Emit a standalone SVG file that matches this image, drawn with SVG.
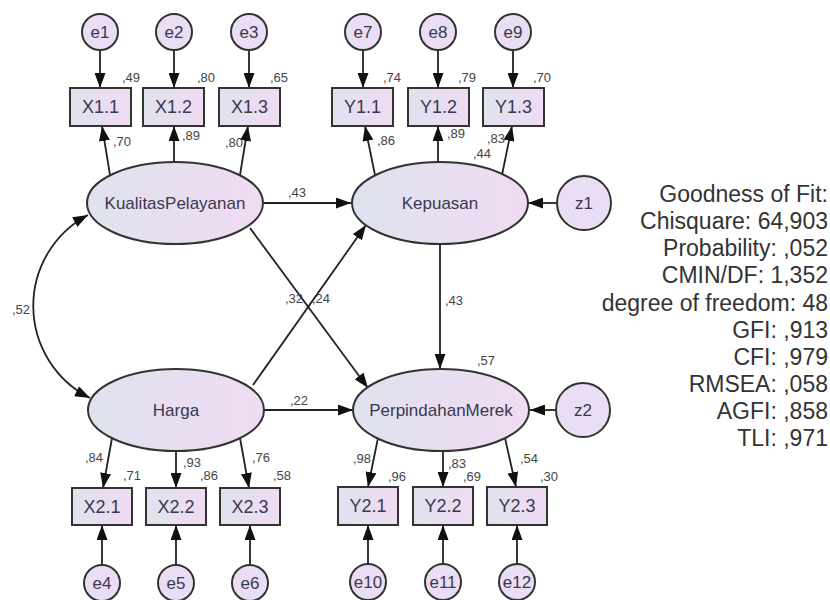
<svg xmlns="http://www.w3.org/2000/svg" width="830" height="600" viewBox="0 0 830 600">
<defs>
<linearGradient id="gfill" x1="0" y1="0" x2="1" y2="0">
<stop offset="0" stop-color="#dfe3ee"/>
<stop offset="1" stop-color="#f0dbf3"/>
</linearGradient>
<marker id="ah" viewBox="0 0 15 11" refX="15" refY="5.5" markerWidth="15" markerHeight="11" markerUnits="userSpaceOnUse" orient="auto-start-reverse">
<path d="M0,0 L15,5.5 L0,11 z" fill="#111"/>
</marker>
<style>
.box{fill:url(#gfill);stroke:#333;stroke-width:2}
.lat{fill:url(#gfill);stroke:#333;stroke-width:2}
.err{fill:#e9def3;stroke:#333;stroke-width:2}
.lbl{font-family:"Liberation Sans",Arial,sans-serif;fill:#3b3850;text-anchor:middle}
.bl{font-size:18px}
.ll{font-size:17px}
.el{font-size:17px}
.cf{font-family:"Liberation Sans",Arial,sans-serif;font-size:13px;fill:#444}
.fit{font-family:"Liberation Sans",Arial,sans-serif;font-size:23px;fill:#333;text-anchor:end}
.c{stroke:#222;stroke-width:1.8;fill:none;marker-end:url(#ah)}
</style>
</defs>
<rect width="830" height="600" fill="#fff"/>

<g id="connectors">
<line class="c" x1="100" y1="50" x2="100" y2="88"/>
<line class="c" x1="174" y1="50" x2="174" y2="88"/>
<line class="c" x1="249" y1="50" x2="249" y2="88"/>
<line class="c" x1="363" y1="50" x2="363" y2="88"/>
<line class="c" x1="438" y1="50" x2="438" y2="88"/>
<line class="c" x1="513" y1="50" x2="513" y2="88"/>
<line class="c" x1="110" y1="175" x2="102" y2="126"/>
<line class="c" x1="174" y1="162" x2="174" y2="126"/>
<line class="c" x1="240" y1="175" x2="248" y2="126"/>
<line class="c" x1="375" y1="175" x2="365" y2="126"/>
<line class="c" x1="438" y1="162" x2="438" y2="126"/>
<line class="c" x1="502" y1="175" x2="512" y2="126"/>
<line class="c" x1="263" y1="203" x2="351" y2="203"/>
<line class="c" x1="264" y1="410" x2="353" y2="410"/>
<line class="c" x1="250" y1="228" x2="368" y2="388"/>
<line class="c" x1="253" y1="385" x2="366" y2="225"/>
<line class="c" x1="440" y1="244" x2="440" y2="369"/>
<line class="c" x1="557" y1="203" x2="528" y2="203"/>
<line class="c" x1="556" y1="410" x2="530" y2="410"/>
<path class="c" d="M88,215 A103,103 0 0 0 90,398" style="marker-start:url(#ah)"/>
<line class="c" x1="112" y1="438" x2="103" y2="488"/>
<line class="c" x1="176" y1="451" x2="176" y2="488"/>
<line class="c" x1="240" y1="438" x2="249" y2="488"/>
<line class="c" x1="378" y1="438" x2="368" y2="487"/>
<line class="c" x1="443" y1="451" x2="443" y2="487"/>
<line class="c" x1="505" y1="438" x2="516" y2="487"/>
<line class="c" x1="102" y1="565" x2="102" y2="525"/>
<line class="c" x1="176" y1="565" x2="176" y2="525"/>
<line class="c" x1="250" y1="565" x2="250" y2="525"/>
<line class="c" x1="368" y1="564" x2="368" y2="525"/>
<line class="c" x1="443" y1="564" x2="443" y2="525"/>
<line class="c" x1="517" y1="564" x2="517" y2="525"/>
</g>

<g id="e1"><circle class="err" cx="100" cy="32" r="18"/><text class="lbl el" x="100" y="38">e1</text></g>
<g id="e2"><circle class="err" cx="174" cy="32" r="18"/><text class="lbl el" x="174" y="38">e2</text></g>
<g id="e3"><circle class="err" cx="249" cy="32" r="18"/><text class="lbl el" x="249" y="38">e3</text></g>
<g id="e7"><circle class="err" cx="363" cy="32" r="18"/><text class="lbl el" x="363" y="38">e7</text></g>
<g id="e8"><circle class="err" cx="438" cy="32" r="18"/><text class="lbl el" x="438" y="38">e8</text></g>
<g id="e9"><circle class="err" cx="513" cy="32" r="18"/><text class="lbl el" x="513" y="38">e9</text></g>

<g id="X1.1"><rect class="box" x="70" y="88" width="61" height="38"/><text class="lbl bl" x="100.5" y="113">X1.1</text></g>
<g id="X1.2"><rect class="box" x="143" y="88" width="61" height="38"/><text class="lbl bl" x="173.5" y="113">X1.2</text></g>
<g id="X1.3"><rect class="box" x="219" y="88" width="61" height="38"/><text class="lbl bl" x="249.5" y="113">X1.3</text></g>
<g id="Y1.1"><rect class="box" x="332" y="88" width="61" height="38"/><text class="lbl bl" x="362.5" y="113">Y1.1</text></g>
<g id="Y1.2"><rect class="box" x="408" y="88" width="61" height="38"/><text class="lbl bl" x="438.5" y="113">Y1.2</text></g>
<g id="Y1.3"><rect class="box" x="483" y="88" width="61" height="38"/><text class="lbl bl" x="513.5" y="113">Y1.3</text></g>

<g id="KualitasPelayanan"><ellipse class="lat" cx="175" cy="203" rx="88" ry="41"/><text class="lbl ll" x="175" y="209">KualitasPelayanan</text></g>
<g id="Kepuasan"><ellipse class="lat" cx="440" cy="203" rx="88" ry="41"/><text class="lbl ll" x="440" y="209">Kepuasan</text></g>
<g id="z1"><circle class="err" cx="584" cy="203" r="27"/><text class="lbl el" x="584" y="209">z1</text></g>
<g id="Harga"><ellipse class="lat" cx="176" cy="410" rx="88" ry="41"/><text class="lbl ll" x="176" y="416">Harga</text></g>
<g id="PerpindahanMerek"><ellipse class="lat" cx="441" cy="410" rx="88" ry="41"/><text class="lbl ll" x="441" y="416">PerpindahanMerek</text></g>
<g id="z2"><circle class="err" cx="583" cy="410" r="27"/><text class="lbl el" x="583" y="416">z2</text></g>

<g id="X2.1"><rect class="box" x="72" y="488" width="60" height="37"/><text class="lbl bl" x="102" y="513">X2.1</text></g>
<g id="X2.2"><rect class="box" x="146" y="488" width="60" height="37"/><text class="lbl bl" x="176" y="513">X2.2</text></g>
<g id="X2.3"><rect class="box" x="220" y="488" width="60" height="37"/><text class="lbl bl" x="250" y="513">X2.3</text></g>
<g id="Y2.1"><rect class="box" x="338" y="487" width="60" height="38"/><text class="lbl bl" x="368" y="512">Y2.1</text></g>
<g id="Y2.2"><rect class="box" x="413" y="487" width="60" height="38"/><text class="lbl bl" x="443" y="512">Y2.2</text></g>
<g id="Y2.3"><rect class="box" x="487" y="487" width="60" height="38"/><text class="lbl bl" x="517" y="512">Y2.3</text></g>

<g id="e4"><circle class="err" cx="102" cy="583" r="18"/><text class="lbl el" x="102" y="589">e4</text></g>
<g id="e5"><circle class="err" cx="176" cy="583" r="18"/><text class="lbl el" x="176" y="589">e5</text></g>
<g id="e6"><circle class="err" cx="250" cy="583" r="18"/><text class="lbl el" x="250" y="589">e6</text></g>
<g id="e10"><circle class="err" cx="368" cy="582" r="18"/><text class="lbl el" x="368" y="588">e10</text></g>
<g id="e11"><circle class="err" cx="443" cy="582" r="18"/><text class="lbl el" x="443" y="588">e11</text></g>
<g id="e12"><circle class="err" cx="517" cy="582" r="18"/><text class="lbl el" x="517" y="588">e12</text></g>

<g id="coefficients">
<text class="cf" x="122" y="82">,49</text>
<text class="cf" x="197" y="82">,80</text>
<text class="cf" x="270" y="82">,65</text>
<text class="cf" x="383" y="82">,74</text>
<text class="cf" x="458" y="82">,79</text>
<text class="cf" x="533" y="82">,70</text>
<text class="cf" x="113" y="146">,70</text>
<text class="cf" x="182" y="140">,89</text>
<text class="cf" x="225" y="147">,80</text>
<text class="cf" x="377" y="145">,86</text>
<text class="cf" x="447" y="138">,89</text>
<text class="cf" x="487" y="143">,83</text>
<text class="cf" x="473" y="158">,44</text>
<text class="cf" x="288" y="197">,43</text>
<text class="cf" x="445" y="305">,43</text>
<text class="cf" x="285" y="303">,32</text>
<text class="cf" x="312" y="303">,24</text>
<text class="cf" x="290" y="405">,22</text>
<text class="cf" x="477" y="365">,57</text>
<text class="cf" x="12" y="314">,52</text>
<text class="cf" x="85" y="462">,84</text>
<text class="cf" x="123" y="480">,71</text>
<text class="cf" x="183" y="467">,93</text>
<text class="cf" x="200" y="480">,86</text>
<text class="cf" x="252" y="462">,76</text>
<text class="cf" x="273" y="480">,58</text>
<text class="cf" x="353" y="463">,98</text>
<text class="cf" x="388" y="481">,96</text>
<text class="cf" x="448" y="468">,83</text>
<text class="cf" x="463" y="481">,69</text>
<text class="cf" x="520" y="463">,54</text>
<text class="cf" x="540" y="481">,30</text>
</g>

<g id="fit">
<text class="fit" x="828" y="202">Goodness of Fit:</text>
<text class="fit" x="828" y="229">Chisquare: 64,903</text>
<text class="fit" x="828" y="256">Probability: ,052</text>
<text class="fit" x="828" y="283">CMIN/DF: 1,352</text>
<text class="fit" x="828" y="311">degree of freedom: 48</text>
<text class="fit" x="828" y="338">GFI: ,913</text>
<text class="fit" x="828" y="365">CFI: ,979</text>
<text class="fit" x="828" y="392">RMSEA: ,058</text>
<text class="fit" x="828" y="419">AGFI: ,858</text>
<text class="fit" x="828" y="446">TLI: ,971</text>
</g>
</svg>
